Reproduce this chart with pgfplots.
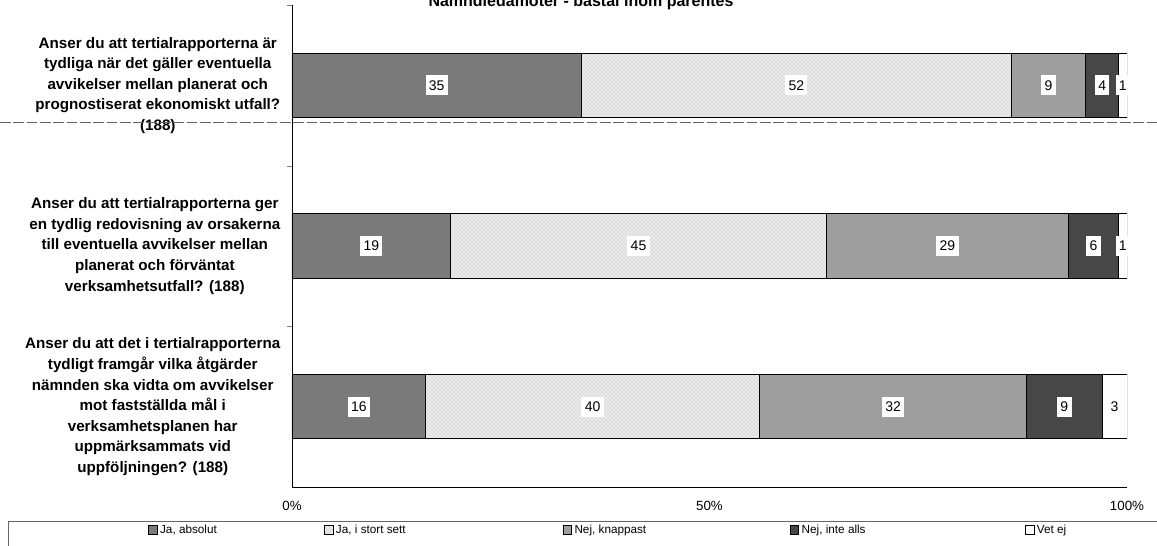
\documentclass[border=0pt]{standalone}
\usepackage{fontspec}
\setmainfont{Liberation Sans}
\usepackage{pgfplots}
\pgfplotsset{compat=1.18}
\usepackage{pgfplotstable}
\usetikzlibrary{patterns}

% share in percent per answer, tot = row sum as printed
\pgfplotstableread{
y a b c d e tot
0 35 52 9 4 1 101
1 19 45 29 6 1 100
2 16 40 32 9 3 100
}\svar

\begin{document}
\begin{tikzpicture}
\begin{axis}[
  at={(0pt,0pt)}, anchor=south west,
  scale only axis, width=626.25pt, height=361.5pt,
  xbar stacked, bar width=0.4,
  xmin=0, xmax=100, ymin=-0.5, ymax=2.5, y dir=reverse,
  axis x line*=bottom, axis y line*=left,
  axis line style={line width=0.6pt},
  tick align=outside,
  /pgf/number format/assume math mode=true,
  xtick={0,50,100}, xticklabels={0\%,50\%,100\%},
  xticklabel style={font=\fontsize{10}{12}\selectfont, yshift=-3pt},
  major x tick style={draw=none},
  ytick={0,1,2}, major y tick style={draw=none},
  minor ytick={-0.5,0.5,1.5}, minor tick length=4pt,
  yticklabels={
    {Anser du att tertialrapporterna är\\tydliga när det gäller eventuella\\avvikelser mellan planerat och\\prognostiserat ekonomiskt utfall?\\(188)},
    {Anser du att tertialrapporterna ger\\en tydlig redovisning av orsakerna\\till eventuella avvikelser mellan\\planerat och förväntat\\verksamhetsutfall? (188)},
    {Anser du att det i tertialrapporterna\\tydligt framgår vilka åtgärder\\nämnden ska vidta om avvikelser\\mot fastställda mål i\\verksamhetsplanen har\\uppmärksammats vid\\uppföljningen? (188)}},
  yticklabel style={align=center, font=\fontsize{11.4}{15.4}\selectfont\bfseries, xshift=-1pt},
  every axis plot/.append style={draw=black, line width=0.6pt},
  nodes near coords,
  point meta=explicit,
  every node near coord/.append style={anchor=center, fill=white, inner xsep=2.5pt,
    minimum height=15pt, font=\fontsize{10.5}{12}\selectfont},
  legend columns=5,
  legend image code/.code={\draw[#1,draw=black,line width=0.5pt] (0pt,-3.2pt) rectangle (6.4pt,3.2pt);},
  legend style={draw=none, fill=none, at={(0,0)}, anchor=west, xshift=-108pt, yshift=-32.25pt,
    font=\fontsize{8.8}{10}\selectfont, column sep=0pt, inner sep=0pt},
]
\addplot[fill=black!52]
  table[x expr=\thisrow{a}*100/\thisrow{tot}, y=y, meta=a] {\svar};
\addlegendentry{\makebox[121pt][l]{Ja, absolut}}
\addplot[fill=black!8, postaction={pattern=crosshatch dots, pattern color=black!30}]
  table[x expr=\thisrow{b}*100/\thisrow{tot}, y=y, meta=b] {\svar};
\addlegendentry{\makebox[168pt][l]{Ja, i stort sett}}
\addplot[fill=black!38]
  table[x expr=\thisrow{c}*100/\thisrow{tot}, y=y, meta=c] {\svar};
\addlegendentry{\makebox[159.5pt][l]{Nej, knappast}}
\addplot[fill=black!72]
  table[x expr=\thisrow{d}*100/\thisrow{tot}, y=y, meta=d] {\svar};
\addlegendentry{\makebox[165.5pt][l]{Nej, inte alls}}
\addplot[fill=white]
  table[x expr=\thisrow{e}*100/\thisrow{tot}, y=y, meta=e] {\svar};
\addlegendentry{Vet ej}
\end{axis}
% title, partly cut at the top edge as in the scan
\node[anchor=base, font=\fontsize{12}{14}\selectfont\bfseries] at (216.75pt,360pt)
  {Nämndledamöter - bastal inom parentes};
% scan artefacts: dashed rule and legend frame
\draw[black!60, dashed, dash pattern=on 8pt off 2pt] (-219pt,273.75pt) -- (648.75pt,273.75pt);
\draw[black!60, line width=0.7pt] (-213pt,-44.25pt) -- (-213pt,-25.5pt) -- (648.75pt,-25.5pt);
\pgfresetboundingbox
\useasboundingbox (-219pt,-44.25pt) rectangle (648.75pt,365.25pt);
\end{tikzpicture}
\end{document}
